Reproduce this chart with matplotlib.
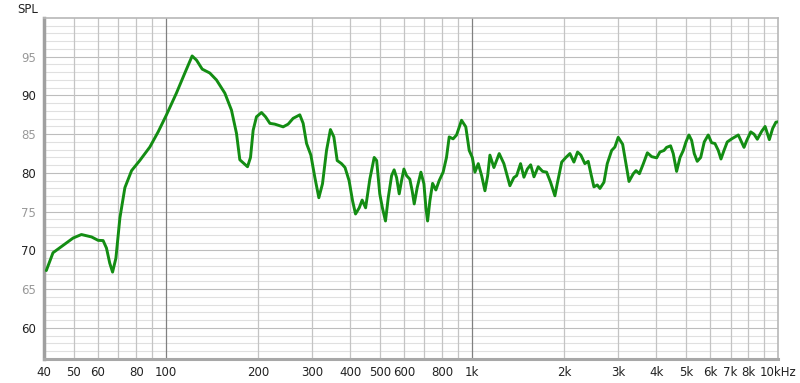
import numpy as np
import matplotlib
matplotlib.use("Agg")
import matplotlib.pyplot as plt
from matplotlib.ticker import FixedLocator, NullFormatter

freq = [40.7, 42.8, 45.6, 49.8, 53.0, 57.2, 60.1, 62.4, 64.0, 65.6, 67.0, 68.7, 70.8, 73.5, 77.3,
        82.2, 88.7, 94.4, 100.5, 108.3, 115.4, 121.9, 126, 131.5, 139.2, 146.4, 155.9, 163.9, 170.2,
        174.5, 180.2, 184.9, 189.1, 192.9, 197.8, 205.4, 211.7, 218.8, 227, 241.7, 251, 260.6, 274,
        281, 288.3, 297.8, 306.9, 316.2, 325, 335, 345, 354, 363, 375, 385, 397, 407.5, 416.7, 428.5,
        438, 449.5, 464, 479.5, 488.5, 500, 510, 522, 533, 546.6, 557, 567.5, 578.8, 589, 599.6,
        611.8, 626.8, 638, 648, 662.6, 681.4, 697, 707.5, 716.5, 729, 744, 762.6, 781.6, 805.4, 826,
        843, 868, 891, 925, 955, 980, 1003, 1023, 1049, 1076, 1103, 1126, 1145, 1180, 1228, 1272,
        1331, 1371, 1400, 1442, 1479, 1517, 1556, 1595, 1647, 1702, 1754, 1807, 1867, 1900, 1965,
        2028, 2090, 2154, 2214, 2270, 2339, 2399, 2448, 2504, 2568, 2620, 2700, 2768, 2861, 2932,
        3006, 3108, 3186, 3260, 3367, 3437, 3525, 3632, 3743, 3867, 4015, 4113, 4242, 4325, 4457,
        4547, 4664, 4786, 4904, 5004, 5117, 5222, 5326, 5447, 5590, 5742, 5916, 6068, 6223, 6382,
        6512, 6661, 6826, 7058, 7418, 7744, 7905, 8146, 8353, 8559, 8853, 9077, 9368, 9608, 9843,
        10000]

spl = [67.4, 69.7, 70.5, 71.6, 72.05, 71.74, 71.3, 71.27, 70.3, 68.35, 67.2, 69.0, 74.2, 78.1, 80.3,
       81.6, 83.35, 85.3, 87.5, 90.3, 92.9, 95.1, 94.56, 93.4, 92.9, 92.0, 90.3, 88.1, 85.1,
       81.7, 81.2, 80.8, 82.0, 85.5, 87.25, 87.8, 87.25, 86.4, 86.3, 85.95, 86.3, 87.05, 87.5,
       86.4, 83.8, 82.3, 79.4, 76.8, 78.6, 82.9, 85.6, 84.65, 81.6, 81.2, 80.7, 79.0, 76.4, 74.7, 75.5,
       76.5, 75.5, 79.2, 82.0, 81.6, 77.3, 75.5, 73.8, 76.8, 79.65, 80.4, 79.4, 77.3, 79.0, 80.5,
       79.65, 79.2, 77.7, 76.0, 78.1, 80.1, 78.6, 75.5, 73.8, 76.4, 78.65, 77.8, 79.0, 80.1, 82.0,
       84.65, 84.4, 84.9, 86.8, 85.95, 82.9, 82.0, 80.1, 81.2, 79.65, 77.7, 79.65, 82.3, 80.7, 82.5, 81.2,
       78.35, 79.4, 79.65, 81.2, 79.45, 80.5, 81.05, 79.5, 80.8, 80.2, 80.1, 78.8, 77.05, 78.6, 81.4,
       82.0, 82.5, 81.4, 82.7, 82.3, 81.2, 81.5, 79.9, 78.2, 78.45, 78.0, 78.8, 81.2, 82.9, 83.35,
       84.6, 83.7, 81.2, 78.9, 79.9, 80.3, 79.9, 81.2, 82.6, 82.1, 81.95, 82.7, 82.9, 83.3, 83.5,
       82.5, 80.2, 82.0, 82.9, 84.0, 84.9, 84.2, 82.5, 81.5, 82.0, 84.0, 84.9, 83.9, 83.8, 82.9,
       81.8, 82.9, 84.0, 84.4, 84.9, 83.3, 84.2, 85.3, 85.0, 84.35, 85.4, 86.0, 84.3, 85.75, 86.55,
       86.6]

xtick_vals = [40, 50, 60, 80, 100, 200, 300, 400, 500, 600, 800, 1000,
              2000, 3000, 4000, 5000, 6000, 7000, 8000, 10000]
xtick_text = ["40", "50", "60", "80", "100", "200", "300", "400", "500", "600", "800", "1k",
              "2k", "3k", "4k", "5k", "6k", "7k", "8k", "10kHz"]
ytick_vals = [60, 65, 70, 75, 80, 85, 90, 95]

fig = plt.figure(figsize=(8, 3.83), dpi=100)
ax = fig.add_axes([0.055, 0.063, 0.9175, 0.89])
ax.set_xscale("log")
ax.set_xlim(40, 10000)
ax.set_ylim(56, 100)

# grid lines
for d in range(57, 100):
    ax.axhline(d, color="#bdbdbd" if d % 5 == 0 else "#e0e0e0", lw=0.8, zorder=0)
for dec in [10, 100, 1000]:
    for m in range(1, 10):
        f = dec * m
        if 40 <= f <= 10000:
            c = "#808080" if m == 1 else "#c4c4c4"
            ax.axvline(f, color=c, lw=0.9, zorder=0)

ax.plot(freq, spl, color="#138d13", lw=2.1, zorder=3,
        solid_joinstyle="round", solid_capstyle="round")

ax.xaxis.set_major_locator(FixedLocator(xtick_vals))
ax.set_xticklabels(xtick_text)
ax.xaxis.set_minor_formatter(NullFormatter())
ax.xaxis.set_minor_locator(FixedLocator([]))
ax.set_yticks(ytick_vals)
ax.tick_params(length=0, labelsize=8.5, pad=6, colors="#222222")
ax.tick_params(axis="x", pad=5)
for lab, v in zip(ax.get_yticklabels(), ytick_vals):
    lab.set_color("#999999" if v % 10 == 5 else "#222222")

for s in ax.spines.values():
    s.set_color("#b8b8b8")
    s.set_linewidth(1.2)
ax.spines["left"].set_linewidth(2.5)
ax.spines["bottom"].set_linewidth(2.2)
ax.spines["left"].set_color("#a0a0a0")
ax.spines["bottom"].set_color("#a8a8a8")

fig.text(0.021, 0.975, "SPL", fontsize=8.5, color="#222222", va="center")

fig.savefig("out.png", dpi=100)
